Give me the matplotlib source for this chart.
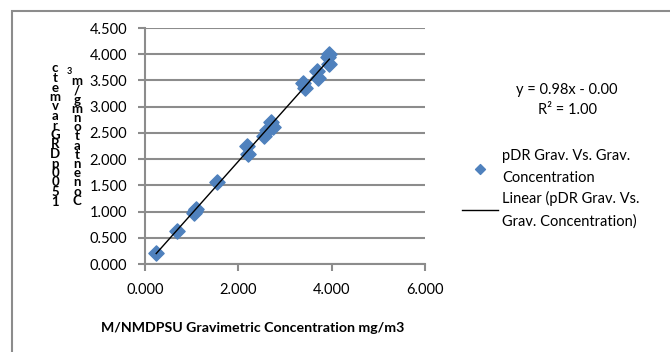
import matplotlib.pyplot as plt
import numpy as np
from matplotlib.patches import Rectangle
from matplotlib.ticker import FormatStrFormatter

plt.rcParams['font.family'] = ['Lato', 'DejaVu Sans']

# M/NMDPSU gravimetric vs pDR gravimetric concentration (mg/m3)
grav_x = [0.24, 0.68, 1.04, 1.07, 1.10, 1.55, 2.19, 2.21, 2.54, 2.61, 2.71, 2.75,
          3.39, 3.43, 3.68, 3.71, 3.93, 3.95, 3.95]
pdr_y = [0.21, 0.63, 0.98, 1.02, 1.05, 1.57, 2.25, 2.10, 2.45, 2.55, 2.71, 2.61,
         3.45, 3.35, 3.68, 3.55, 3.94, 4.00, 3.81]

W, H = 670, 352
fig = plt.figure(figsize=(W / 100, H / 100), dpi=100)

def fx(px):
    return px / W

def fy(py):
    return 1 - py / H

# outer chart frame
fig.patches.append(Rectangle((fx(12), fy(400)), fx(700), fy(11) - fy(400),
                             transform=fig.transFigure, fill=False,
                             edgecolor='#8c8c8c', linewidth=1.5))

ax = fig.add_axes([fx(145), fy(264), fx(425) - fx(145), fy(28) - fy(264)])

# linear fit
slope, icpt = np.polyfit(grav_x, pdr_y, 1)
xs = np.array([min(grav_x), max(grav_x)])
ax.plot(xs, slope * xs + icpt, color='black', linewidth=1, zorder=3,
        label='Linear (pDR Grav. Vs.\nGrav. Concentration)')
ax.scatter(grav_x, pdr_y, marker='D', s=60, color='#4F81BD', zorder=2,
           label='pDR Grav. Vs. Grav.\nConcentration')

ax.set_xlim(0, 6)
ax.set_ylim(0, 4.5)
ax.set_xticks([0, 2, 4, 6])
ax.set_yticks(np.arange(0, 4.51, 0.5))
ax.xaxis.set_major_formatter(FormatStrFormatter('%.3f'))
ax.yaxis.set_major_formatter(FormatStrFormatter('%.3f'))
ax.yaxis.grid(True, color='#8c8c8c', linewidth=1.5)
ax.set_axisbelow(True)
for s in ['top', 'right']:
    ax.spines[s].set_visible(False)
for s in ['left', 'bottom']:
    ax.spines[s].set_color('#8c8c8c')
    ax.spines[s].set_linewidth(1.5)
ax.tick_params(axis='both', colors='#8c8c8c', length=5, width=1.5,
               labelcolor='black', labelsize=10.5)
ax.tick_params(axis='y', pad=8)
ax.tick_params(axis='x', pad=9)

fig.text(fx(253), fy(328), 'M/NMDPSU Gravimetric Concentration mg/m3',
         ha='center', va='center', fontsize=10.2, fontweight='bold')

# stacked y label characters, as rendered in the original
col1 = 'ctemvarGRDp0051'
col2 = 'm/gmnotatnenoC'
fig.text(fx(55), fy(135), '\n'.join(col1), ha='center', va='center',
         fontsize=9.5, fontweight='bold', linespacing=0.75)
fig.text(fx(69), fy(71), '3', ha='center', va='center', fontsize=6.5,
         fontweight='bold')
fig.text(fx(77), fy(141), '\n'.join(col2), ha='center', va='center',
         fontsize=9.5, fontweight='bold', linespacing=0.72)

# trendline equation
fig.text(fx(567), fy(90), 'y = 0.98x - 0.00', ha='center', va='center',
         fontsize=10.5)
fig.text(fx(567), fy(110), 'R² = 1.00', ha='center', va='center',
         fontsize=10.5)

handles, labels = ax.get_legend_handles_labels()
leg = fig.legend(handles[::-1], labels[::-1], loc='upper left',
                 bbox_to_anchor=(fx(462), fy(149)), frameon=False,
                 fontsize=10.5, handlelength=2.5, handletextpad=0.25,
                 labelspacing=0.45, borderaxespad=0, borderpad=0,
                 markerscale=0.65)
for t in leg.get_texts():
    t.set_linespacing(1.7)

fig.savefig('out.png', dpi=100)
